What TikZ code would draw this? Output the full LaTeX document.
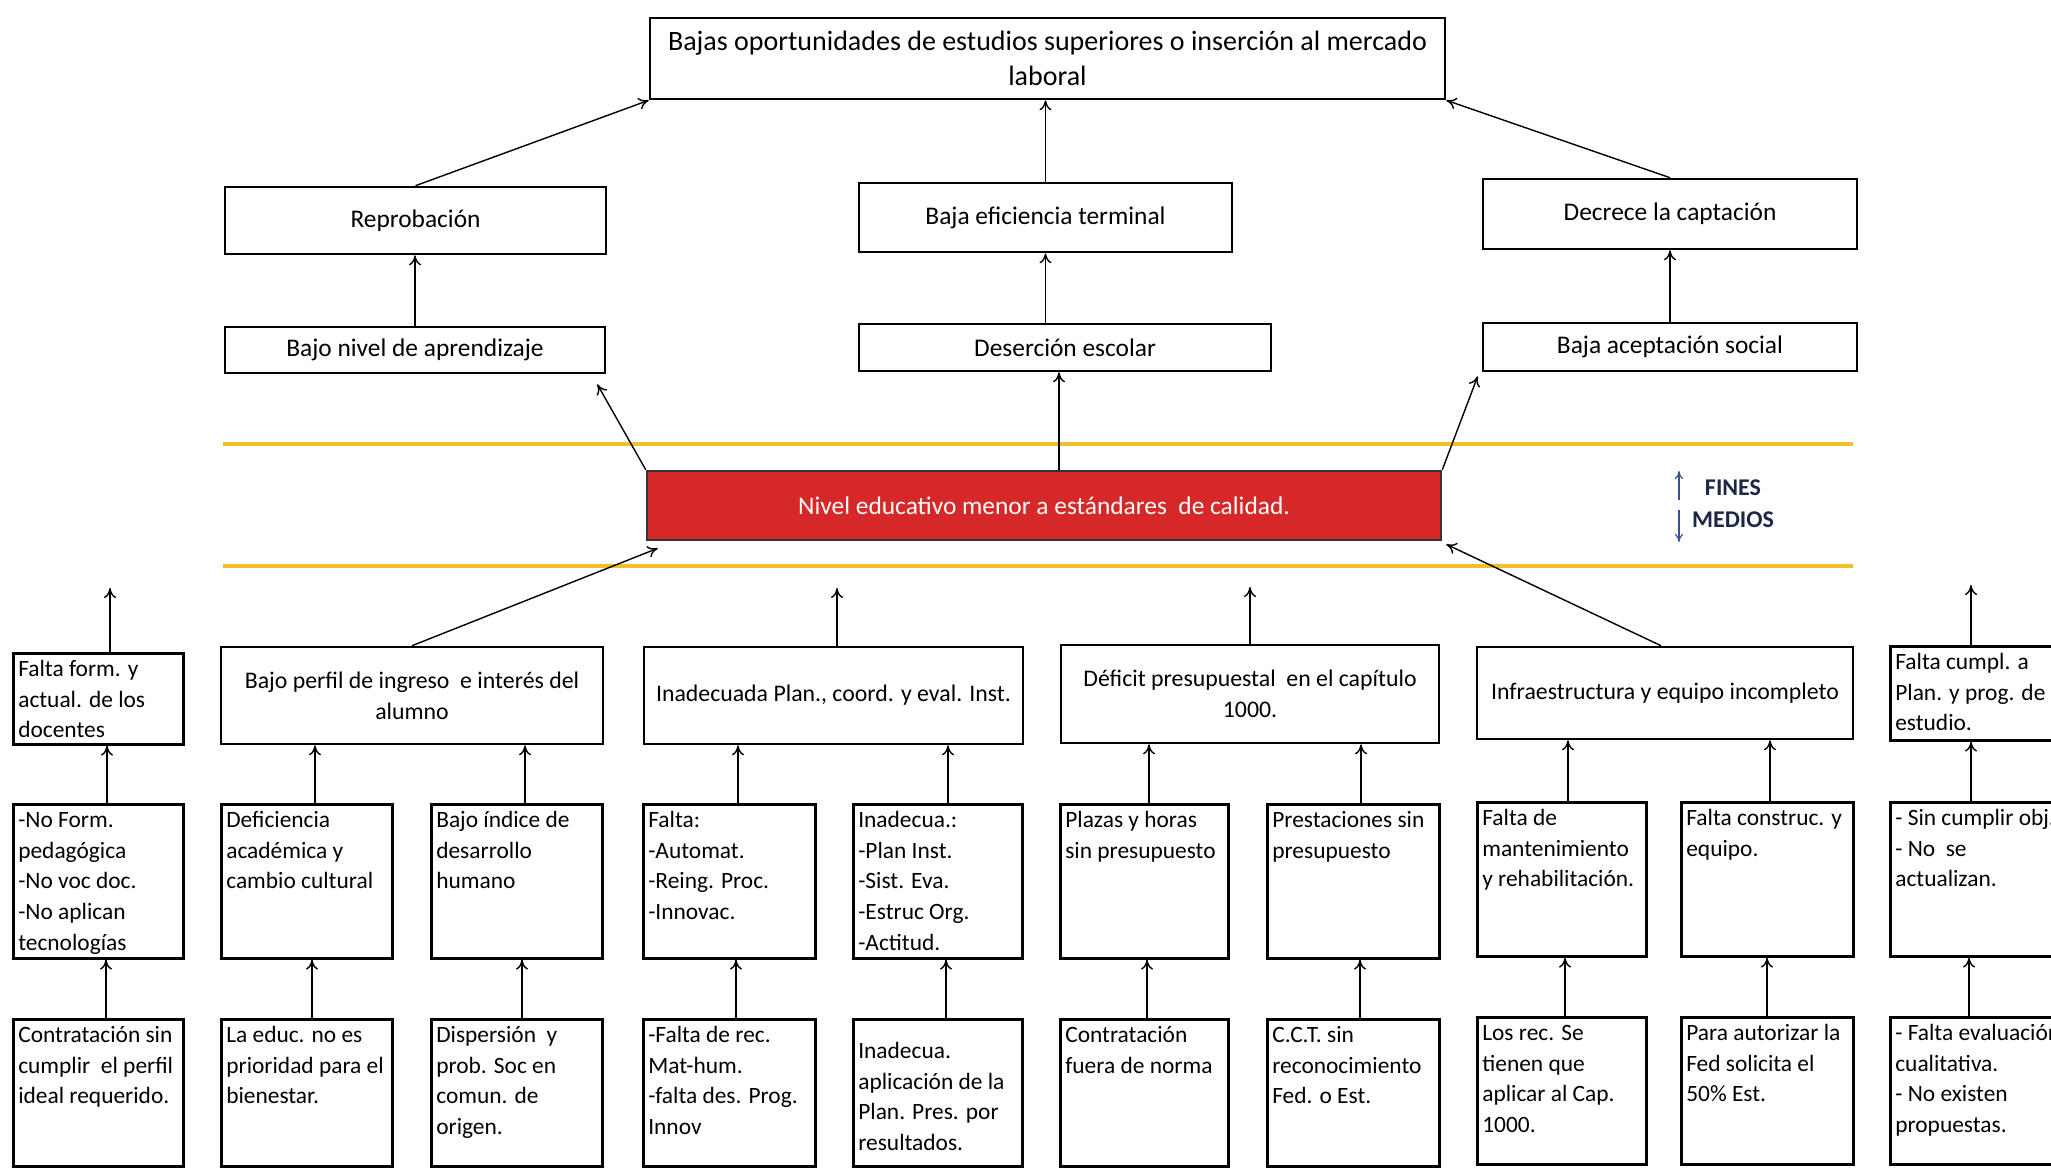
\documentclass[tikz,border=0pt]{standalone}
\usepackage{fontspec}
\setmainfont{Carlito}
\usetikzlibrary{arrows.meta,calc}
\definecolor{redbox}{RGB}{214,40,40}
\definecolor{goldline}{RGB}{240,192,40}
\definecolor{navyarr}{RGB}{60,80,140}
\definecolor{labtxt}{RGB}{30,40,70}
\tikzset{
  bx/.style={draw, line width=1.3pt},
  cb/.style={bx, align=center, inner sep=2pt},
  lb/.style={bx, anchor=north west, inner xsep=2.5pt, inner ysep=1pt},
  arr/.style={-{To[length=5pt,width=6pt]}, line width=0.7pt},
  goldrule/.style={draw=goldline, line width=2pt},
  farr/.style={-{To[length=4pt,width=4pt]}, draw=navyarr, line width=0.6pt},
  lowfont/.style={font=\fontsize{11.7}{15.3}\selectfont},
  rowfont/.style={font=\fontsize{11.9}{15.5}\selectfont},
  midfont/.style={font=\fontsize{12.7}{15}\selectfont},
  topfont/.style={font=\fontsize{14}{17.5}\selectfont},
}
\newcommand\cbox[7][]{%
  \node[cb, #1, minimum width={(#5-#3)*0.5pt}, minimum height={(#6-#4)*0.5pt}]
    (#2) at ({(#3+#5)/2},{(#4+#6)/2}) {#7};}
\newcommand\lbox[7][]{%
  \pgfmathsetmacro\bw{(#5-#3)*0.5-5}%
  \pgfmathsetmacro\bh{(#6-#4)*0.5-2}%
  \node[lb, lowfont] (#2) at (#3,#4)
    {\makebox[\bw pt][l]{\parbox[t][\bh pt][t]{300pt}{\raggedright #1\strut #7}}};}
% arrow from the top of a child to the bottom of its parent at a given x
\newcommand\uparr[3]{\draw[arr] (#1.north -| #3,0) -- (#2.south -| #3,0);}
\begin{document}
\begin{tikzpicture}[x=0.5pt, y=-0.5pt]
\useasboundingbox (0,0) rectangle (2051,1168);
\clip (0,0) rectangle (2051,1168);
\fill[white] (0,0) rectangle (2051,1168);

% ---------- ends (top part)
\cbox[topfont]{T}{650}{18}{1445}{99}{Bajas oportunidades de estudios superiores o inserción al mercado\\laboral}
\cbox[midfont]{Rep}{225}{187}{606}{254}{Reprobación}
\cbox[midfont]{BEf}{859}{183}{1232}{252}{Baja eficiencia terminal}
\cbox[midfont]{Dec}{1483}{179}{1857}{249}{Decrece la captación}
\cbox[midfont]{BNA}{225}{327}{605}{373}{Bajo nivel de aprendizaje}
\cbox[midfont]{Des}{859}{324}{1271}{371}{Deserción escolar}
\cbox[midfont]{BAS}{1483}{323}{1857}{371}{Baja aceptación social}

% gold rules
\draw[goldrule] (223,444) -- (1853,444);
\draw[goldrule] (223,566) -- (1853,566);

% central problem
\cbox[midfont, fill=redbox, text=white, draw=black!80]{R}{647}{471}{1441}{540}{Nivel educativo menor a estándares~ de calidad.}

% FINES / MEDIOS
\node[font=\fontsize{12}{14}\selectfont\bfseries, text=labtxt] (FIN) at (1733,488) {FINES};
\node[font=\fontsize{12}{14}\selectfont\bfseries, text=labtxt] (MED) at (1733,520) {MEDIOS};
\coordinate (fa) at (1679,500);
\coordinate (fb) at (1679,471);
\coordinate (ma) at (1679,510);
\coordinate (mb) at (1679,542);
\draw[farr] (fa) -- (fb);
\draw[farr] (ma) -- (mb);

% arrows top part
\draw[arr] (Rep.north) -- (T.south west);
\draw[arr] (BEf.north) -- (BEf.north |- T.south);
\draw[arr] (Dec.north) -- (T.south east);
\draw[arr] (BNA.north) -- (BNA.north |- Rep.south);
\draw[arr] (BEf.south |- Des.north) -- (BEf.south);
\draw[arr] (BAS.north) -- (BAS.north |- Dec.south);
\draw[arr] (R.north west) -- ([xshift=-4.5pt,yshift=-5pt]BNA.south east);
\draw[arr] ([xshift=-3pt]Des.south |- R.north) -- ([xshift=-3pt]Des.south);
\draw[arr] (R.north east) -- ([xshift=-2pt,yshift=-2pt]BAS.south west);

% ---------- causes row 1
\lbox{A1}{12}{652}{182}{743}{Falta form. y\\actual. de los\\docentes}
\cbox[rowfont]{A2}{221}{647}{603}{744}{Bajo perfil de ingreso~ e interés del\\alumno}
\cbox[rowfont]{A3}{644}{647}{1023}{744}{Inadecuada Plan., coord. y eval. Inst.}
\cbox[rowfont]{A4}{1061}{645}{1439}{743}{Déficit presupuestal~ en el capítulo\\1000.}
\cbox[rowfont]{A5}{1477}{647}{1853}{739}{Infraestructura y equipo incompleto}
\lbox{A6}{1889}{645}{2070}{739}{Falta cumpl. a\\Plan. y prog. de\\estudio.}

\coordinate (a1t) at (110,588);
\coordinate (a3t) at (837,588);
\coordinate (a4t) at (1250,587);
\coordinate (a6t) at (1971,585);
\draw[arr] (A1.north -| a1t) -- (a1t);
\draw[arr] (A3.north -| a3t) -- (a3t);
\draw[arr] (A4.north -| a4t) -- (a4t);
\draw[arr] (A6.north -| a6t) -- (a6t);
\draw[arr] (A2.north) -- ([xshift=6pt,yshift=-3.5pt]R.south west);
\draw[arr] ([xshift=-2pt]A5.north) -- ([xshift=2pt,yshift=-1.5pt]R.south east);

% ---------- causes row 2
\lbox{B1}{12}{803}{182}{957}{-No Form.\\pedagógica\\-No voc doc.\\-No aplican\\tecnologías}
\lbox{B2}{220}{803}{391}{957}{Deficiencia\\académica y\\cambio cultural}
\lbox{B3}{430}{803}{601}{957}{Bajo índice de\\desarrollo\\humano}
\lbox{B4}{642}{803}{814}{957}{Falta:\\-Automat.\\-Reing. Proc.\\-Innovac.}
\lbox{B5}{852}{803}{1021}{957}{Inadecua.:\\-Plan Inst.\\-Sist. Eva.\\-Estruc Org.\\-Actitud.}
\lbox{B6}{1059}{803}{1227}{957}{Plazas y horas\\sin presupuesto}
\lbox{B7}{1266}{803}{1438}{957}{Prestaciones sin\\presupuesto}
\lbox{B8}{1476}{801}{1645}{955}{Falta de\\mantenimiento\\y rehabilitación.}
\lbox{B9}{1680}{801}{1852}{955}{Falta construc. y\\equipo.}
\lbox{B10}{1889}{801}{2070}{955}{- Sin cumplir obj.\\- No~ se\\actualizan.}

% ---------- causes row 3
\lbox{C1}{12}{1018}{182}{1165}{Contratación sin\\cumplir~ el perfil\\ideal requerido.}
\lbox{C2}{220}{1018}{391}{1165}{La educ. no es\\prioridad para el\\bienestar.}
\lbox{C3}{430}{1018}{601}{1165}{Dispersión~ y\\prob. Soc en\\comun. de\\origen.}
\lbox{C4}{642}{1018}{814}{1165}{-Falta de rec.\\Mat-hum.\\-falta des. Prog.\\Innov}
\lbox[\vspace*{8pt}]{C5}{852}{1018}{1021}{1165}{Inadecua.\\aplicación de la\\Plan. Pres. por\\resultados.}
\lbox{C6}{1059}{1018}{1227}{1165}{Contratación\\fuera de norma}
\lbox{C7}{1266}{1018}{1438}{1165}{C.C.T. sin\\reconocimiento\\Fed. o Est.}
\lbox{C8}{1476}{1016}{1645}{1163}{Los rec. Se\\tienen que\\aplicar al Cap.\\1000.}
\lbox{C9}{1680}{1016}{1852}{1163}{Para autorizar la\\Fed solicita el\\50\% Est.}
\lbox{C10}{1889}{1016}{2070}{1163}{- Falta evaluación\\cualitativa.\\- No existen\\propuestas.}

% arrows row 2 -> row 1
\uparr{B1}{A1}{107}
\uparr{B2}{A2}{315}
\uparr{B3}{A2}{525}
\uparr{B4}{A3}{738}
\uparr{B5}{A3}{948}
\uparr{B6}{A4}{1149}
\uparr{B7}{A4}{1361}
\uparr{B8}{A5}{1568}
\uparr{B9}{A5}{1770}
\uparr{B10}{A6}{1971}

% arrows row 3 -> row 2
\uparr{C1}{B1}{106}
\uparr{C2}{B2}{312}
\uparr{C3}{B3}{522}
\uparr{C4}{B4}{736}
\uparr{C5}{B5}{946}
\uparr{C6}{B6}{1147}
\uparr{C7}{B7}{1360}
\uparr{C8}{B8}{1565}
\uparr{C9}{B9}{1767}
\uparr{C10}{B10}{1969}
\end{tikzpicture}
\end{document}
